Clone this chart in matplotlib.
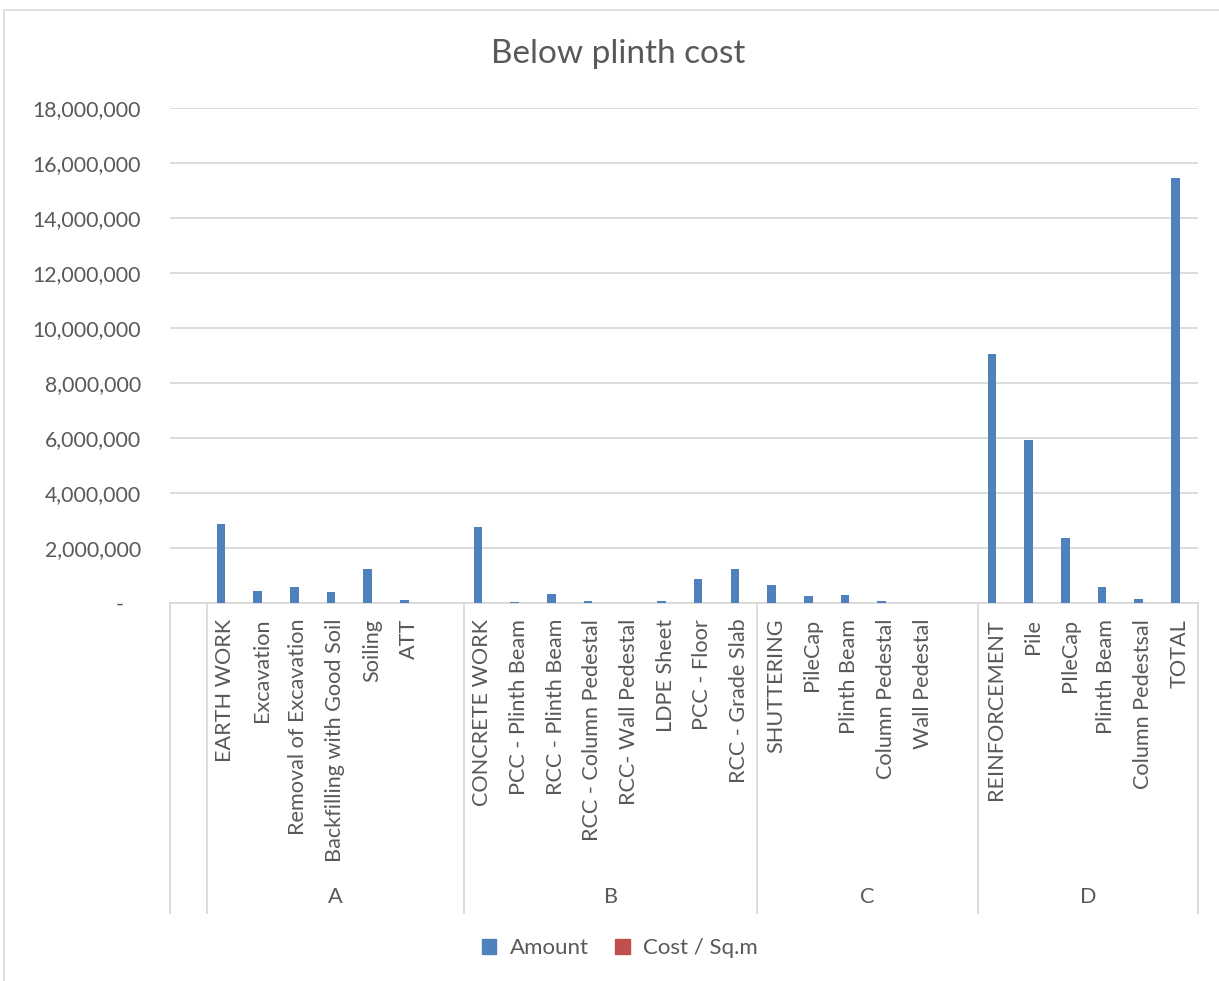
import matplotlib
matplotlib.use("Agg")
import numpy as np
from matplotlib import pyplot as plt
from matplotlib.patches import Patch, Rectangle

plt.rcParams['font.family'] = ['Lato', 'DejaVu Sans']

# item rows of the estimate, '' = blank spacer row in the sheet
items = ['', 'EARTH WORK', 'Excavation', 'Removal of Excavation', 'Backfilling with Good Soil',
         'Soiling', 'ATT', '',
         'CONCRETE WORK', 'PCC - Plinth Beam', 'RCC - Plinth Beam', 'RCC - Column Pedestal',
         'RCC- Wall Pedestal', 'LDPE Sheet', 'PCC - Floor', 'RCC - Grade Slab',
         'SHUTTERING', 'PileCap', 'Plinth Beam', 'Column Pedestal', 'Wall Pedestal', '',
         'REINFORCEMENT', 'Pile', 'PIleCap', 'Plinth Beam', 'Column Pedestsal', 'TOTAL']
groups = ['', 'A', 'B', 'C', 'D']
group_sizes = [1, 7, 8, 6, 6]

amount = [0, 2870000, 440000, 600000, 410000, 1220000, 110000, 0,
          2760000, 40000, 320000, 80000, 10000, 90000, 890000, 1220000,
          670000, 270000, 290000, 80000, 0, 0,
          9070000, 5910000, 2360000, 590000, 160000, 15460000]
cost_sqm = [0, 1430, 220, 300, 200, 610, 55, 0,
            1380, 20, 160, 40, 5, 45, 445, 610,
            335, 135, 145, 40, 0, 0,
            4530, 2950, 1180, 295, 80, 7730]

W, H = 1219, 981
blue = '#4F81BD'
red = '#C0504D'
grid = '#D9D9D9'
txt = '#595959'

fig = plt.figure(figsize=(W / 100, H / 100), dpi=100)
fig.patches.append(Rectangle((4 / W, -0.1), 1.2, 1.1 - 10 / H, transform=fig.transFigure,
                             fill=False, edgecolor=grid, lw=1.2))

ax = fig.add_axes([170 / W, 1 - 603 / H, 1028 / W, 495 / H])
x = np.arange(len(items))
bw = 0.23
ax.bar(x - bw / 2, amount, bw, color=blue, label='Amount', zorder=3)
ax.bar(x + bw / 2, cost_sqm, bw, color=red, label='Cost / Sq.m', zorder=3)

ax.set_xlim(-0.5, len(items) - 0.5)
ax.set_ylim(0, 18000000)
ticks = np.arange(0, 18000001, 2000000)
ax.set_yticks(ticks)
ax.set_yticklabels(['-   ' if t == 0 else f'{t:,.0f}' for t in ticks])
ax.tick_params(axis='y', length=0, pad=21, labelsize=15.3, labelcolor=txt)
ax.set_xticks([])
ax.yaxis.grid(True, color=grid, lw=1.3, zorder=0)
for s in ['left', 'right', 'top']:
    ax.spines[s].set_visible(False)
ax.spines['bottom'].set_color(grid)
ax.spines['bottom'].set_linewidth(1.3)

# two-level category axis
tr = ax.get_xaxis_transform()
for i, name in enumerate(items):
    if name:
        ax.text(i, -0.032, name, transform=tr, rotation=90, ha='center', va='top',
                fontsize=15.6, color=txt)
edges = np.concatenate([[0], np.cumsum(group_sizes)]) - 0.5
for e in edges:
    ax.plot([e, e], [0, -0.626], transform=tr, color=grid, lw=1.3, clip_on=False)
for g, a, b in zip(groups, edges[:-1], edges[1:]):
    ax.text((a + b) / 2, -0.594, g, transform=tr, ha='center', va='center',
            fontsize=15.6, color=txt)

fig.text(618 / W, 1 - 54 / H, 'Below plinth cost', ha='center', va='center',
         fontsize=24, color=txt)

handles = [Patch(color=blue, label='Amount'), Patch(color=red, label='Cost / Sq.m')]
fig.legend(handles=handles, loc='center', bbox_to_anchor=(620 / W, 1 - 948 / H), ncol=2,
           frameon=False, fontsize=16, labelcolor=txt, handlelength=0.65, handleheight=0.65,
           handletextpad=0.6, columnspacing=1.2)

fig.savefig('out.png', dpi=100, facecolor='white')
